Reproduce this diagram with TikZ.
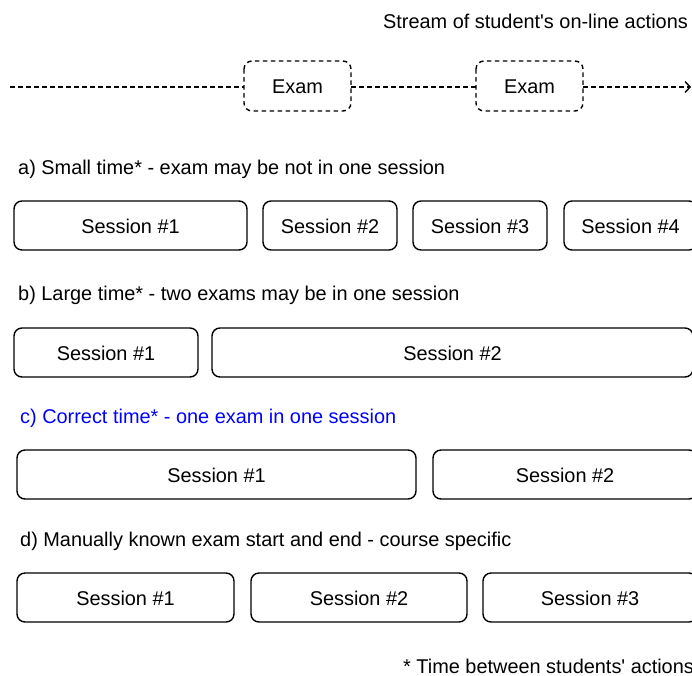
\documentclass[tikz,border=0pt]{standalone}
\usepackage{fontspec}
\setmainfont{Liberation Sans}[Ligatures=NoCommon]
\usetikzlibrary{arrows.meta}
\newcommand{\sq}{\textquotesingle}
\begin{document}
\begin{tikzpicture}[x=1pt,y=-1pt,
  every node/.style={font=\fontsize{19.9}{22}\selectfont, inner sep=0pt},
  sess/.style={draw, line width=1.4pt, rounded corners=8pt},
  exambox/.style={draw, line width=1.4pt, rounded corners=8pt, dash pattern=on 4.5pt off 3.5pt},
  dline/.style={line width=1.4pt, dash pattern=on 4.5pt off 3.5pt},
  lbl/.style={anchor=west},
  stxt/.style={yshift=-1pt}
]
\useasboundingbox (0,0) rectangle (692,675);
\clip (0,0) rectangle (692,675);
% stream
\node[anchor=east] (title) at (688,21) {Stream of student\sq s on-line actions};
\coordinate (s0) at (10,87);
\coordinate (s1) at (691,87);
\draw[exambox] (244,61) rectangle node[stxt] (e1) {Exam} (351,111);
\draw[exambox] (476,61) rectangle node[stxt] (e2) {Exam} (583,111);
\coordinate (e1w) at (244,87);
\coordinate (e1e) at (351,87);
\coordinate (e2w) at (476,87);
\coordinate (e2e) at (583,87);
\draw[dline] (s0) -- (e1w);
\draw[dline] (e1e) -- (e2w);
\draw[dline, -{Straight Barb[length=5pt,width=11pt,line width=1.4pt]}] (e2e) -- (s1);
% a
\node[lbl] (la) at (18,169) {a) Small time* - exam may be not in one session};
\draw[sess] (14,201) rectangle node[stxt] (a1) {Session \#1} (247,250);
\draw[sess] (263,201) rectangle node[stxt] (a2) {Session \#2} (397,250);
\draw[sess] (413,201) rectangle node[stxt] (a3) {Session \#3} (547,250);
\draw[sess] (564,201) rectangle node[stxt] (a4) {Session \#4} (697,250);
% b
\node[lbl] (lb) at (18,295) {b) Large time* - two exams may be in one session};
\draw[sess] (14,328) rectangle node[stxt] (b1) {Session \#1} (198,377);
\draw[sess] (212,328) rectangle node[stxt] (b2) {Session \#2} (693,377);
% c
\node[lbl, text={rgb,255:red,0;green,0;blue,255}] (lc) at (20,418) {c) Correct time* - one exam in one session};
\draw[sess] (17,450) rectangle node[stxt] (c1) {Session \#1} (416,499);
\draw[sess] (433,450) rectangle node[stxt] (c2) {Session \#2} (697,499);
% d
\node[lbl] (ld) at (20,541) {d) Manually known exam start and end - course specific};
\draw[sess] (17,573) rectangle node[stxt] (d1) {Session \#1} (234,622);
\draw[sess] (251,573) rectangle node[stxt] (d2) {Session \#2} (467,622);
\draw[sess] (483,573) rectangle node[stxt] (d3) {Session \#3} (697,622);
% footnote
\node[lbl] (fn) at (403,666) {* Time between students\sq\ actions};
\end{tikzpicture}
\end{document}
